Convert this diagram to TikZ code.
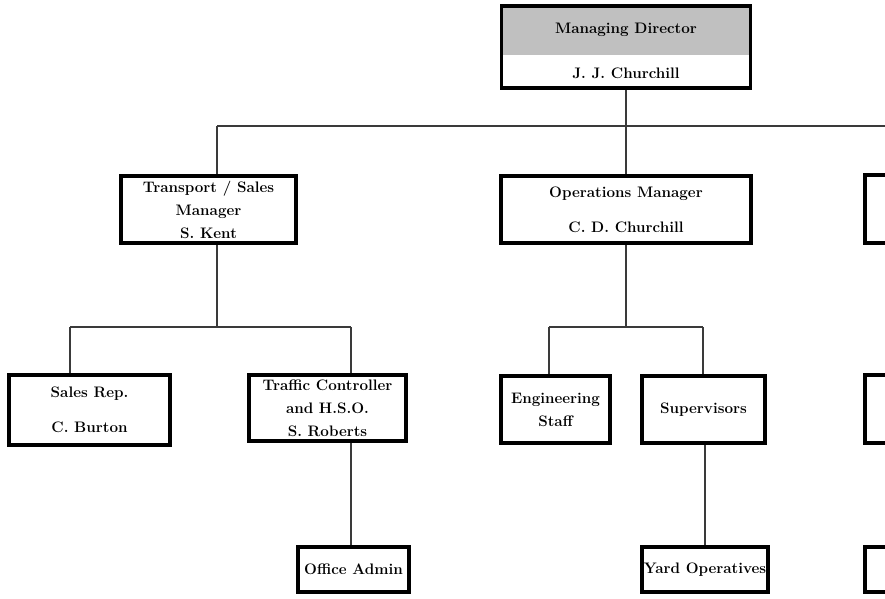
\documentclass[tikz,border=0pt]{standalone}
\usetikzlibrary{positioning, backgrounds, calc}
\usepackage{xcolor}
\definecolor{mdgrey}{HTML}{C0C0C0}
\definecolor{linkgrey}{HTML}{3A3A3A}

\begin{document}
\begin{tikzpicture}[
    x=1pt, y=-1pt,
    box/.style={rectangle, draw=black, fill=white, line width=3.6pt, align=center,
                inner sep=0pt, font=\fontsize{15.2}{23}\selectfont\bfseries},
    label/.style={inner sep=0pt, font=\fontsize{15.2}{23}\selectfont\bfseries},
    link/.style={draw=linkgrey, line width=1.2pt}
  ]
    \useasboundingbox (0,0) rectangle (885,598);
    \clip (0,0) rectangle (885,598);

    % top level
    \node[box, fill=none, minimum width=249pt, minimum height=82pt] (md) at (626,47) {};
    \coordinate (mdsplit) at (0,55);
    \begin{scope}[on background layer]
      \fill[mdgrey] (md.north west) rectangle (md.east |- mdsplit);
    \end{scope}
    \node[label] (mdtitle) at (626,30) {Managing Director};
    \node[label] (mdname) at (626,73) {J. J. Churchill};

    % managers
    \node[box, minimum width=175pt, minimum height=67pt] (tsm) at (208.5,209.5)
      {Transport / Sales\\Manager\\S. Kent};
    \node[box, minimum width=250pt, minimum height=67pt] (ops) at (626,209.5)
      {Operations Manager\\[12pt]C. D. Churchill};
    \node[box, minimum width=250pt, minimum height=68pt] (rt1) at (990,209) {};

    % staff
    \node[box, minimum width=161pt, minimum height=70pt] (srep) at (89.5,410)
      {Sales Rep.\\[12pt]C. Burton};
    \node[box, minimum width=157pt, minimum height=66pt] (tc) at (327.5,408)
      {Traffic Controller\\and H.S.O.\\S. Roberts};
    \node[box, minimum width=109pt, minimum height=67pt] (eng) at (555.5,409.5)
      {Engineering\\Staff};
    \node[box, minimum width=123pt, minimum height=67pt] (sup) at (703.5,409.5)
      {Supervisors};
    \node[box, minimum width=250pt, minimum height=68pt] (rt2) at (990,409) {};

    % bottom row
    \node[box, minimum width=111pt, minimum height=45pt] (oa) at (353.5,569.5) {Office Admin};
    \node[box, minimum width=126pt, minimum height=45pt] (yo) at (705,569.5) {Yard Operatives};
    \node[box, minimum width=250pt, minimum height=45pt] (rt3) at (990,569.5) {};

    % buses
    \coordinate (topbus) at (217,126);
    \coordinate (srepdrop) at (70,327);
    \coordinate (tcdrop) at (351,327);
    \coordinate (engdrop) at (549,327);
    \coordinate (supdrop) at (703,327);

    \begin{scope}[on background layer]
      \draw[link] (md.south) -- (ops.north -| md.south);
      \draw[link] (topbus) -| (rt1.north);
      \draw[link] (topbus) -- (tsm.north -| topbus);
      \draw[link] (tsm.south -| topbus) -- (srepdrop -| topbus);
      \draw[link] (srepdrop) -- (tcdrop);
      \draw[link] (srepdrop) -- (srep.north -| srepdrop);
      \draw[link] (tcdrop) -- (tc.north -| tcdrop);
      \draw[link] (tc.south -| tcdrop) -- (oa.north -| tcdrop);
      \draw[link] (ops.south) -- (ops.south |- engdrop);
      \draw[link] (engdrop) -- (supdrop);
      \draw[link] (engdrop) -- (eng.north -| engdrop);
      \draw[link] (supdrop) -- (sup.north -| supdrop);
      \draw[link] (sup.south -| yo.north) -- (yo.north);
    \end{scope}
  \end{tikzpicture}
\end{document}
